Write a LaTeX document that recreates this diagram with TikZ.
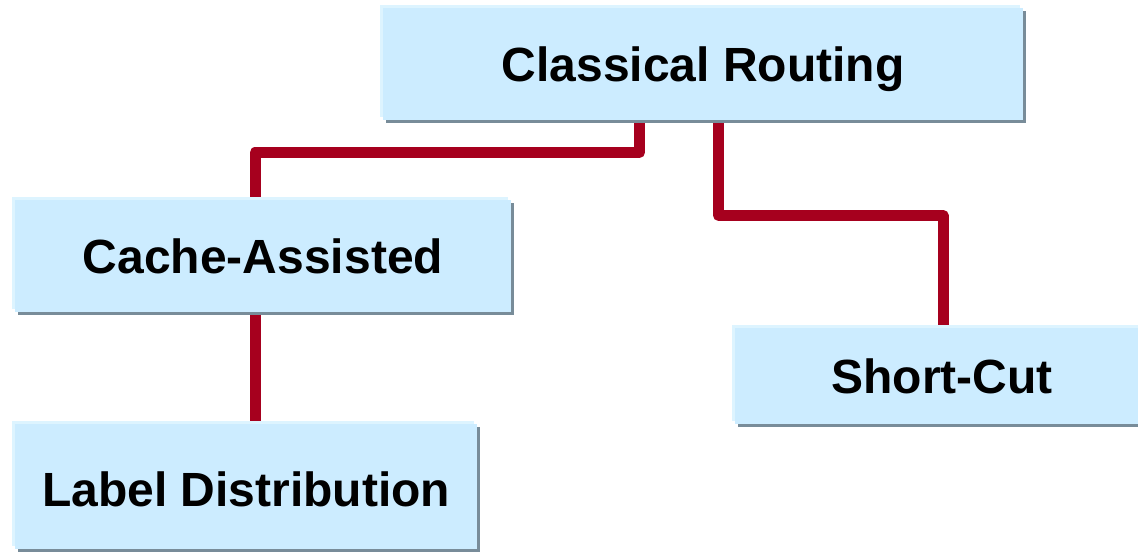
\documentclass[tikz,border=0pt]{standalone}
\usepackage{fontspec}
\setmainfont{Liberation Sans}
\usetikzlibrary{shadows,backgrounds}
\definecolor{boxfill}{HTML}{CCECFF}
\definecolor{boxlight}{HTML}{DDF4FF}
\definecolor{boxshade}{HTML}{788C99}
\definecolor{linkred}{HTML}{A6001E}
\tikzset{
  box/.style={rectangle, fill=boxfill, inner sep=0pt,
    text height=34.4pt, text depth=0pt,
    general shadow={shadow xshift=3pt, shadow yshift=-3pt, fill=boxshade},
    general shadow={shadow xshift=-3pt, shadow yshift=3pt, fill=boxlight},
    font=\fontsize{48}{56}\selectfont\bfseries},
  link/.style={draw=linkred, line width=11pt, line join=round}
}
\begin{document}
\begin{tikzpicture}[x=1pt, y=-1pt]
  \useasboundingbox (0,0) rectangle (1138,553);
  \node[box, minimum width=640pt, minimum height=112pt] (cr) at (703,64) {Classical Routing};
  \node[box, minimum width=496pt, minimum height=112pt] (ca) at (263,256) {Cache-Assisted};
  \node[box, minimum width=414pt, minimum height=96pt] (sc) at (942,376) {Short-Cut};
  \node[box, minimum width=462pt, minimum height=125pt, text height=40.4pt] (ld) at (246,486.5) {Label Distribution};
  \coordinate (k1) at (639.5,152.5);
  \coordinate (k2) at (255,152.5);
  \coordinate (k3) at (718.5,215.5);
  \coordinate (k4) at (943,215.5);
  \begin{scope}[on background layer]
    \fill[white] (0,0) rectangle (1138,553);
    \draw[link] (k1 |- cr.south) -- (k1) -- (k2) -- (k2 |- ca.north);
    \draw[link] (k3 |- cr.south) -- (k3) -- (k4) -- (k4 |- sc.north);
    \draw[link] (k2 |- ca.south) -- (k2 |- ld.north);
  \end{scope}
\end{tikzpicture}
\end{document}
